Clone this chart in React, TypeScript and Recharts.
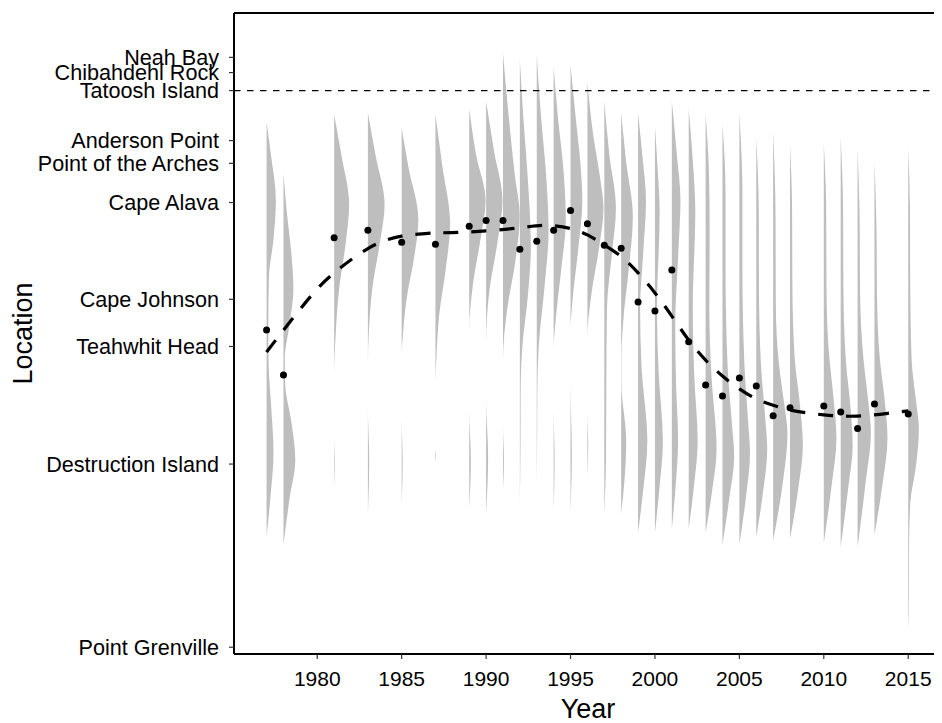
import React from 'react';
import { ComposedChart, Area, Line, Scatter, XAxis, YAxis, ReferenceLine } from 'recharts';

// Locations along the coast (position in coastal units, south -> north)
const locationNames = [
  'Point Grenville',
  'Destruction Island',
  'Teahwhit Head',
  'Cape Johnson',
  'Cape Alava',
  'Point of the Arches',
  'Anderson Point',
  'Tatoosh Island',
  'Chibahdehl Rock',
  'Neah Bay',
];
const locationPositions = [0, 45.8, 75.2, 87.0, 111.2, 121.0, 126.7, 139.2, 143.7, 147.5];

const yearTicks = [1980, 1985, 1990, 1995, 2000, 2005, 2010, 2015];

// Mean location per year (points)
const pointYears = [1977, 1978, 1981, 1983, 1985, 1987, 1989, 1990, 1991, 1992, 1993, 1994, 1995, 1996, 1997, 1998, 1999, 2000, 2001, 2002, 2003, 2004, 2005, 2006, 2007, 2008, 2010, 2011, 2012, 2013, 2015];
const pointLocs = [79.3, 68.1, 102.4, 104.3, 101.3, 100.8, 105.3, 106.7, 106.7, 99.5, 101.5, 104.3, 109.2, 105.9, 100.5, 99.8, 86.3, 84.1, 94.3, 76.4, 65.6, 62.8, 67.3, 65.3, 57.9, 59.9, 60.3, 58.8, 54.7, 60.8, 58.3];

// Smoothed trend
const fitYears = [1977, 1978, 1979, 1980, 1981, 1982, 1983, 1984, 1985, 1986, 1987, 1988, 1990, 1992, 1993.6, 1995, 1996, 1997, 1998, 1999, 2000, 2001, 2002, 2003, 2004, 2005, 2006, 2007, 2008, 2009, 2010, 2011, 2012, 2013, 2014, 2015];
const fitLocs = [73.8, 79.3, 84.6, 89.6, 93.6, 96.9, 99.7, 101.7, 102.8, 103.3, 103.6, 103.7, 104.1, 104.9, 105.5, 104.7, 103.1, 100.6, 97.7, 93.6, 88.6, 82.8, 76.8, 71.8, 67.8, 64.6, 62.1, 60.5, 59.3, 58.6, 58.1, 57.8, 57.8, 58.1, 58.6, 59.1];

// Half-violin profiles: [location, width in years]
const violinYears = pointYears;
const violinProfiles: number[][][] = [
  [[131.3, 0], [123.1, 0.26], [111.7, 0.55], [102.1, 0.41], [92.6, 0.14], [80.2, 0.1], [70.6, 0.12], [61.0, 0.26], [48.6, 0.41], [37.2, 0.22], [27.6, 0]],
  [[118.4, 0], [108.8, 0.2], [98.3, 0.47], [89.7, 0.59], [80.2, 0.34], [72.5, 0.08], [65.8, 0.1], [56.3, 0.47], [46.7, 0.7], [37.2, 0.36], [25.7, 0]],
  [[133.2, 0], [123.1, 0.43], [110.7, 0.89], [101.2, 0.69], [89.7, 0.3], [77.3, 0.08], [67.7, 0], [52.4, 0], [46.7, 0.04], [40.0, 0]],
  [[133.6, 0], [123.1, 0.45], [110.7, 0.99], [101.2, 0.71], [89.7, 0.26], [79.2, 0.06], [70.6, 0], [60.1, 0], [46.7, 0.08], [33.3, 0]],
  [[129.8, 0], [120.3, 0.39], [106.9, 0.99], [97.3, 0.73], [86.8, 0.28], [77.3, 0.06], [73.5, 0], [57.2, 0], [46.7, 0.06], [35.3, 0]],
  [[133.2, 0], [120.3, 0.41], [106.0, 0.87], [94.5, 0.61], [83.0, 0.22], [72.5, 0.06], [65.8, 0], [49.6, 0], [47.9, 0.04], [46.2, 0]],
  [[134.6, 0], [123.1, 0.41], [111.7, 0.97], [102.1, 0.67], [90.7, 0.22], [79.2, 0], [59.6, 0], [46.7, 0.1], [34.8, 0]],
  [[136.5, 0], [124.1, 0.47], [111.7, 0.97], [101.2, 0.67], [88.7, 0.18], [75.4, 0], [62.0, 0], [47.7, 0.12], [33.3, 0]],
  [[148.5, 0], [132.7, 0.34], [118.4, 0.69], [107.9, 0.99], [96.4, 0.73], [84.9, 0.26], [71.6, 0], [55.3, 0], [46.7, 0.06], [39.6, 0]],
  [[147.0, 0], [132.7, 0.2], [118.4, 0.45], [100.2, 0.65], [86.8, 0.45], [75.4, 0.15], [65.8, 0.05], [51.5, 0.04], [36.2, 0]],
  [[148.2, 0], [132.7, 0.25], [118.4, 0.55], [104.0, 0.7], [89.7, 0.45], [75.4, 0.12], [65.8, 0.04], [56.3, 0.03], [40.5, 0]],
  [[145.1, 0], [132.7, 0.25], [118.4, 0.6], [106.9, 0.72], [94.5, 0.45], [83.0, 0.15], [74.4, 0], [60.1, 0], [46.7, 0.06], [34.3, 0]],
  [[145.6, 0], [132.7, 0.3], [120.3, 0.6], [111.7, 0.7], [99.3, 0.45], [86.8, 0.12], [79.2, 0], [66.3, 0], [48.6, 0.08], [33.8, 0]],
  [[141.3, 0], [127.9, 0.35], [117.4, 0.75], [109.8, 0.95], [100.2, 0.7], [88.7, 0.25], [77.3, 0], [59.1, 0], [50.5, 0.05], [42.9, 0]],
  [[136.5, 0], [123.1, 0.3], [109.8, 0.69], [98.3, 0.45], [84.9, 0.16], [65.8, 0.12], [46.7, 0.1], [33.3, 0]],
  [[133.6, 0], [121.2, 0.3], [107.9, 0.69], [94.5, 0.45], [83.0, 0.15], [72.5, 0.02], [65.8, 0.02], [51.5, 0.3], [42.0, 0.2], [33.3, 0]],
  [[133.6, 0], [123.1, 0.25], [111.7, 0.47], [98.3, 0.3], [84.9, 0.12], [70.6, 0.2], [51.5, 0.55], [39.1, 0.3], [28.6, 0]],
  [[130.3, 0], [120.3, 0.15], [108.8, 0.28], [84.9, 0.12], [68.7, 0.22], [51.5, 0.47], [39.1, 0.25], [28.6, 0]],
  [[136.5, 0], [123.1, 0.3], [111.7, 0.51], [98.3, 0.38], [80.2, 0.2], [65.8, 0.25], [51.5, 0.37], [40.0, 0.22], [29.5, 0]],
  [[134.6, 0], [121.2, 0.25], [108.8, 0.39], [84.9, 0.24], [67.7, 0.33], [51.5, 0.53], [40.0, 0.3], [29.5, 0]],
  [[133.2, 0], [118.4, 0.2], [104.0, 0.24], [84.9, 0.22], [67.7, 0.35], [49.6, 0.65], [38.1, 0.35], [28.6, 0]],
  [[130.8, 0], [113.6, 0.18], [94.5, 0.18], [70.6, 0.3], [56.3, 0.55], [47.7, 0.69], [37.2, 0.4], [25.7, 0]],
  [[133.6, 0], [113.6, 0.18], [94.5, 0.18], [70.6, 0.3], [56.3, 0.52], [48.6, 0.63], [37.2, 0.38], [25.7, 0]],
  [[127.4, 0], [108.8, 0.15], [89.7, 0.16], [70.6, 0.28], [56.3, 0.55], [49.6, 0.65], [38.1, 0.38], [27.6, 0]],
  [[128.9, 0], [108.8, 0.14], [84.9, 0.16], [70.6, 0.35], [61.0, 0.65], [53.4, 0.85], [42.0, 0.6], [26.7, 0]],
  [[125.5, 0], [110, 0.12], [90, 0.14], [72, 0.28], [62, 0.55], [50.5, 0.76], [40, 0.5], [27.1, 0]],
  [[126.0, 0], [110, 0.14], [90, 0.16], [75, 0.28], [62, 0.58], [52.3, 0.75], [40, 0.45], [26.0, 0]],
  [[127.6, 0], [110, 0.14], [90, 0.16], [72, 0.3], [60, 0.58], [50.3, 0.71], [40, 0.45], [25.0, 0]],
  [[124.5, 0], [108, 0.12], [88, 0.15], [72, 0.35], [62, 0.62], [53.4, 0.79], [42, 0.5], [25.0, 0]],
  [[121.3, 0], [105, 0.12], [88, 0.15], [72, 0.32], [62, 0.6], [52.3, 0.77], [40, 0.45], [28.1, 0]],
  [[125.0, 0], [110, 0.1], [90, 0.12], [72, 0.2], [62, 0.45], [54.5, 0.63], [45, 0.45], [36, 0.12], [25, 0.05], [12, 0.04], [3.9, 0]],
];

const yDomain: [number, number] = [-1.7, 158.6];
const xDomain: [number, number] = [1975.07, 2017.0];
const tatooshLoc = locationPositions[7];

const FONT = '"Liberation Sans", Arial, Helvetica, sans-serif';

const violinData = violinYears.map((year, i) =>
  violinProfiles[i].map(([loc, w]) => ({ loc, span: [year, year + w] }))
);
const pointData = pointYears.map((year, i) => ({ year, loc: pointLocs[i] }));
const fitData = fitYears.map((year, i) => ({ year, loc: fitLocs[i] }));

const locLabel = (v: number) => {
  const idx = locationPositions.indexOf(v);
  return idx >= 0 ? locationNames[idx] : '';
};

const Dot = (props: any) => {
  const { cx, cy } = props;
  if (cx == null || cy == null) return null;
  return <circle cx={cx} cy={cy} r={3.5} fill="#000" />;
};

export default function App() {
  return (
    <div style={{ fontFamily: FONT }}>
      <ComposedChart
        width={934}
        height={715}
        layout="vertical"
        margin={{ top: 5, right: 0, bottom: 0, left: 0 }}
      >
        <XAxis
          type="number"
          domain={xDomain}
          allowDataOverflow
          ticks={yearTicks}
          interval={0}
          height={69}
          tickSize={5}
          tickMargin={12}
          axisLine={{ stroke: '#000', strokeWidth: 2 }}
          tickLine={{ stroke: '#333', strokeWidth: 1.2 }}
          tick={{ fill: '#000', fontSize: 21, fontFamily: FONT }}
          label={{ value: 'Year', position: 'insideBottom', offset: 5, style: { fontSize: 27, fill: '#000', fontFamily: FONT } }}
        />
        <YAxis
          type="number"
          dataKey="loc"
          domain={yDomain}
          allowDataOverflow
          reversed
          ticks={locationPositions}
          interval={0}
          width={226}
          tickSize={5}
          tickMargin={10}
          tickFormatter={locLabel}
          axisLine={{ stroke: '#000', strokeWidth: 2 }}
          tickLine={{ stroke: '#333', strokeWidth: 1.2 }}
          tick={{ fill: '#000', fontSize: 21.6, fontFamily: FONT }}
          label={{ value: 'Location', angle: -90, position: 'insideLeft', offset: 14, style: { textAnchor: 'middle', fontSize: 27, fill: '#000', fontFamily: FONT } }}
        />
        {violinData.map((d, i) => (
          <Area
            key={violinYears[i]}
            data={d}
            dataKey="span"
            type="monotone"
            fill="#BEBEBE"
            fillOpacity={1}
            stroke="none"
            dot={false}
            activeDot={false}
            isAnimationActive={false}
          />
        ))}
        <ReferenceLine y={yDomain[1]} stroke="#000" strokeWidth={2} />
        <ReferenceLine y={tatooshLoc} stroke="#000" strokeWidth={1.3} strokeDasharray="6.5 6.5" />
        <Line
          data={fitData}
          dataKey="year"
          type="natural"
          stroke="#000"
          strokeWidth={3.2}
          strokeDasharray="15 13"
          dot={false}
          activeDot={false}
          isAnimationActive={false}
        />
        <Scatter data={pointData} dataKey="year" shape={<Dot />} isAnimationActive={false} />
      </ComposedChart>
    </div>
  );
}
